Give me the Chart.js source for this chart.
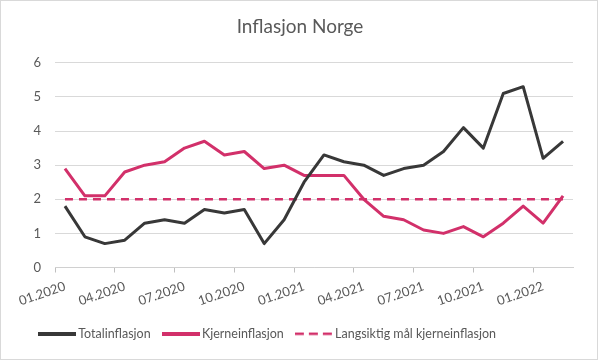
<!DOCTYPE html>
<html>
<head>
<meta charset="utf-8">
<script src="https://cdn.jsdelivr.net/npm/chart.js@4/dist/chart.umd.min.js"></script>
<style>
    html, body { margin: 0; padding: 0; background: #fff; }
    #wrap { width: 596px; height: 358px; border: 1px solid #d9d9d9; position: relative; }
</style>
</head>
<body>
<div id="wrap"><canvas id="inflChart" width="596" height="358"></canvas></div>
<script>
// Monthly data 01.2020 - 02.2022 (12-month change, %)
const months = ['01.2020', '02.2020', '03.2020', '04.2020', '05.2020', '06.2020', '07.2020', '08.2020', '09.2020',
    '10.2020', '11.2020', '12.2020', '01.2021', '02.2021', '03.2021', '04.2021', '05.2021', '06.2021', '07.2021',
    '08.2021', '09.2021', '10.2021', '11.2021', '12.2021', '01.2022', '02.2022'];
const totalinflasjon = [1.8, 0.9, 0.7, 0.8, 1.3, 1.4, 1.3, 1.7, 1.6, 1.7, 0.7, 1.4, 2.5, 3.3, 3.1, 3.0, 2.7, 2.9,
    3.0, 3.4, 4.1, 3.5, 5.1, 5.3, 3.2, 3.7];
const kjerneinflasjon = [2.9, 2.1, 2.1, 2.8, 3.0, 3.1, 3.5, 3.7, 3.3, 3.4, 2.9, 3.0, 2.7, 2.7, 2.7, 2.0, 1.5, 1.4,
    1.1, 1.0, 1.2, 0.9, 1.3, 1.8, 1.3, 2.1];
const maal = [2, 2, 2, 2, 2, 2, 2, 2, 2, 2, 2, 2, 2, 2, 2, 2, 2, 2, 2, 2, 2, 2, 2, 2, 2, 2];
const yTicks = [0, 1, 2, 3, 4, 5, 6];

const grey = '#595959';
const darkLine = '#383838';
const pink = '#d2306a';

Chart.defaults.font.family = 'Lato, "Open Sans", sans-serif';
Chart.defaults.color = grey;

// small line samples for the legend (canvas point styles, so the dash shows)
function legendSample(color, width, dash) {
    const c = document.createElement('canvas');
    c.width = 38;
    c.height = 4;
    const g = c.getContext('2d');
    g.strokeStyle = color;
    g.lineWidth = width;
    g.setLineDash(dash);
    g.beginPath();
    g.moveTo(0, 2);
    g.lineTo(38, 2);
    g.stroke();
    return c;
}

new Chart(document.getElementById('inflChart'), {
    type: 'line',
    data: {
        labels: months,
        datasets: [
            {
                label: 'Totalinflasjon',
                data: totalinflasjon,
                borderColor: darkLine,
                backgroundColor: darkLine,
                borderWidth: 3,
                pointRadius: 0,
                pointStyle: legendSample(darkLine, 4, []),
                tension: 0,
                borderJoinStyle: 'round'
            },
            {
                label: 'Kjerneinflasjon',
                data: kjerneinflasjon,
                borderColor: pink,
                backgroundColor: pink,
                borderWidth: 3,
                pointRadius: 0,
                pointStyle: legendSample(pink, 4, []),
                tension: 0,
                borderJoinStyle: 'round'
            },
            {
                label: 'Langsiktig mål kjerneinflasjon',
                data: maal,
                borderColor: pink,
                backgroundColor: pink,
                borderWidth: 2.5,
                borderDash: [8, 6],
                pointRadius: 0,
                pointStyle: legendSample(pink, 2.5, [9, 5]),
                tension: 0
            }
        ]
    },
    options: {
        responsive: false,
        animation: false,
        layout: { padding: { left: 26, right: 24, top: 8, bottom: 9 } },
        plugins: {
            title: {
                display: true,
                text: 'Inflasjon Norge',
                color: grey,
                font: { size: 19, weight: 'normal' },
                padding: { top: 6, bottom: 25 }
            },
            legend: {
                position: 'bottom',
                align: 'start',
                labels: {
                    usePointStyle: true,
                    pointStyleWidth: 30,
                    boxWidth: 30,
                    boxHeight: 12,
                    padding: 15,
                    color: grey,
                    font: { size: 12.5 }
                }
            },
            tooltip: { enabled: false }
        },
        scales: {
            x: {
                offset: true,
                afterFit: (s) => { s.height = 45; },
                grid: {
                    offset: true,
                    drawOnChartArea: false,
                    drawTicks: true,
                    tickLength: 5,
                    color: (ctx) => (ctx.index % 3 === 0 ? '#bfbfbf' : 'rgba(0,0,0,0)')
                },
                border: { color: '#d0d0d0', width: 1 },
                ticks: {
                    autoSkip: false,
                    minRotation: 19,
                    maxRotation: 19,
                    padding: 6,
                    color: grey,
                    font: { size: 13 },
                    callback: function (value, index) {
                        return index % 3 === 0 ? this.getLabelForValue(value) : '';
                    }
                }
            },
            y: {
                min: yTicks[0],
                max: yTicks[yTicks.length - 1],
                afterFit: (s) => { s.width = 28; },
                afterBuildTicks: (s) => { s.ticks = yTicks.map(v => ({ value: v })); },
                grid: { color: '#d9d9d9', drawTicks: false },
                border: { display: false },
                ticks: { padding: 14, color: grey, font: { size: 13 } }
            }
        }
    }
});
</script>
</body>
</html>
